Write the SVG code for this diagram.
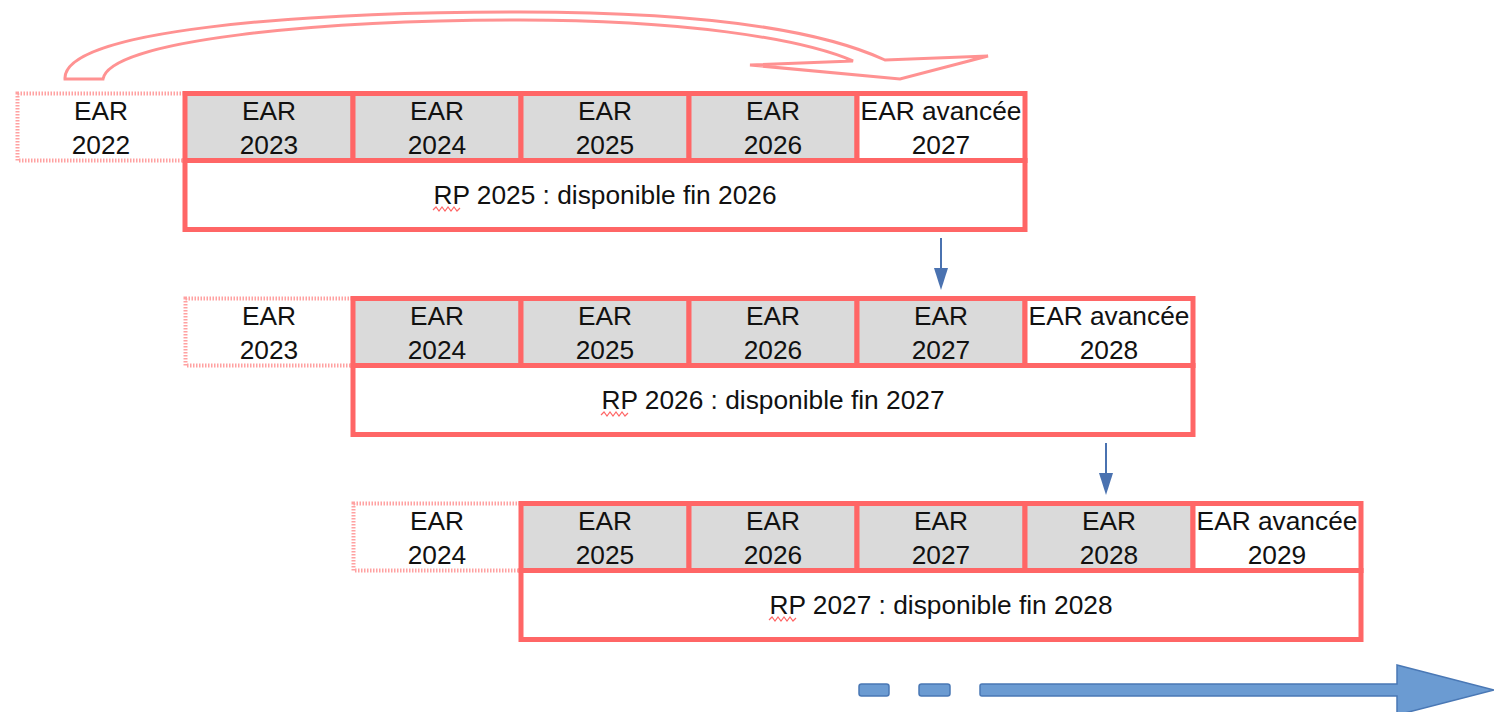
<svg xmlns="http://www.w3.org/2000/svg" width="1494" height="712" viewBox="0 0 1494 712">
<style>
.cell{stroke:#ff6666;stroke-width:5}
.g{fill:#dadada}
.w{fill:#ffffff}
.dot{fill:none;stroke:#ff8a8a;stroke-width:4;stroke-dasharray:1.5 1.5;opacity:0.8}
.t{font-family:"Liberation Sans",Arial,sans-serif;font-size:26.3px;fill:#111;text-anchor:middle}
.sq{fill:none;stroke:#ff6666;stroke-width:1.2}
.blue{stroke:#4a72b0;stroke-width:2;fill:none}
.bh{fill:#4a72b0}
</style>
<rect width="1494" height="712" fill="#ffffff"/>

<g id="row1">
<rect class="dot" x="17.5" y="93.5" width="167.5" height="67"/>
<rect class="cell g" x="185" y="93.5" width="168" height="67"/>
<rect class="cell g" x="353" y="93.5" width="168" height="67"/>
<rect class="cell g" x="521" y="93.5" width="168" height="67"/>
<rect class="cell g" x="689" y="93.5" width="168" height="67"/>
<rect class="cell w" x="857" y="93.5" width="168" height="67"/>
<rect class="cell w" x="185" y="160.5" width="840" height="69"/>
<text class="t" x="101" y="120">EAR</text><text class="t" x="101" y="154">2022</text>
<text class="t" x="269" y="120">EAR</text><text class="t" x="269" y="154">2023</text>
<text class="t" x="437" y="120">EAR</text><text class="t" x="437" y="154">2024</text>
<text class="t" x="605" y="120">EAR</text><text class="t" x="605" y="154">2025</text>
<text class="t" x="773" y="120">EAR</text><text class="t" x="773" y="154">2026</text>
<text class="t" x="941" y="120">EAR avancée</text><text class="t" x="941" y="154">2027</text>
<text class="t" x="605" y="204">RP 2025 : disponible fin 2026</text>
<polyline class="sq" points="433,210 436,207 439,211 442,207 445,211 448,207 451,211 454,207 457,211 460,208"/>
</g>

<g id="row2" transform="translate(168,205)">
<rect class="dot" x="17.5" y="93.5" width="167.5" height="67"/>
<rect class="cell g" x="185" y="93.5" width="168" height="67"/>
<rect class="cell g" x="353" y="93.5" width="168" height="67"/>
<rect class="cell g" x="521" y="93.5" width="168" height="67"/>
<rect class="cell g" x="689" y="93.5" width="168" height="67"/>
<rect class="cell w" x="857" y="93.5" width="168" height="67"/>
<rect class="cell w" x="185" y="160.5" width="840" height="69"/>
<text class="t" x="101" y="120">EAR</text><text class="t" x="101" y="154">2023</text>
<text class="t" x="269" y="120">EAR</text><text class="t" x="269" y="154">2024</text>
<text class="t" x="437" y="120">EAR</text><text class="t" x="437" y="154">2025</text>
<text class="t" x="605" y="120">EAR</text><text class="t" x="605" y="154">2026</text>
<text class="t" x="773" y="120">EAR</text><text class="t" x="773" y="154">2027</text>
<text class="t" x="941" y="120">EAR avancée</text><text class="t" x="941" y="154">2028</text>
<text class="t" x="605" y="204">RP 2026 : disponible fin 2027</text>
<polyline class="sq" points="433,210 436,207 439,211 442,207 445,211 448,207 451,211 454,207 457,211 460,208"/>
</g>

<g id="row3" transform="translate(336,410)">
<rect class="dot" x="17.5" y="93.5" width="167.5" height="67"/>
<rect class="cell g" x="185" y="93.5" width="168" height="67"/>
<rect class="cell g" x="353" y="93.5" width="168" height="67"/>
<rect class="cell g" x="521" y="93.5" width="168" height="67"/>
<rect class="cell g" x="689" y="93.5" width="168" height="67"/>
<rect class="cell w" x="857" y="93.5" width="168" height="67"/>
<rect class="cell w" x="185" y="160.5" width="840" height="69"/>
<text class="t" x="101" y="120">EAR</text><text class="t" x="101" y="154">2024</text>
<text class="t" x="269" y="120">EAR</text><text class="t" x="269" y="154">2025</text>
<text class="t" x="437" y="120">EAR</text><text class="t" x="437" y="154">2026</text>
<text class="t" x="605" y="120">EAR</text><text class="t" x="605" y="154">2027</text>
<text class="t" x="773" y="120">EAR</text><text class="t" x="773" y="154">2028</text>
<text class="t" x="941" y="120">EAR avancée</text><text class="t" x="941" y="154">2029</text>
<text class="t" x="605" y="204">RP 2027 : disponible fin 2028</text>
<polyline class="sq" points="433,210 436,207 439,211 442,207 445,211 448,207 451,211 454,207 457,211 460,208"/>
</g>

<g id="connectors">
<path d="M65,79 C62,30 300,12 520,12 C700,12 820,30 885,60 L988,56 L900,79 L750,65 L853,61 C800,38 680,20 520,20 C320,20 110,40 103,79 Z" fill="#ffffff" stroke="#ff8080" stroke-width="3" stroke-linejoin="miter" opacity="0.85"/>
<line class="blue" x1="941" y1="238" x2="941" y2="270"/>
<polygon class="bh" points="934,268 948,268 941,290"/>
<line class="blue" x1="1106" y1="443" x2="1106" y2="475"/>
<polygon class="bh" points="1099,473 1113,473 1106,495"/>
<g fill="#6b9bd2" stroke="#4a78b5" stroke-width="1.5">
<rect x="859" y="684" width="30" height="12" rx="2.5"/>
<rect x="919" y="684" width="31" height="12" rx="2.5"/>
<path d="M982,684 L1397,684 L1397,665 L1494,690 L1397,715 L1397,696 L982,696 Q980,696 980,694 L980,686 Q980,684 982,684 Z"/>
</g>
</g>
</svg>
